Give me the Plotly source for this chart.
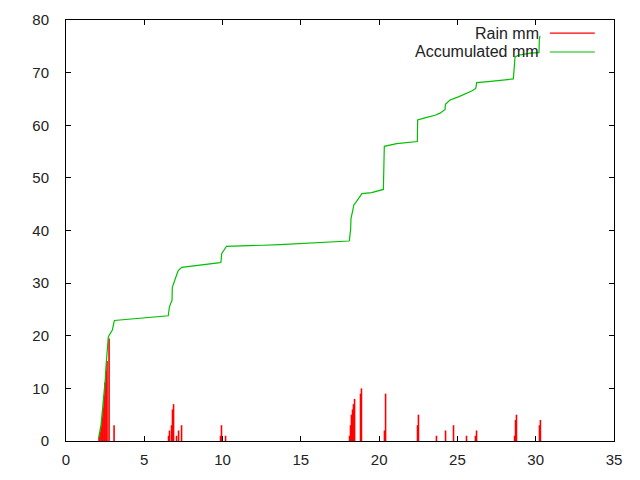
import plotly.graph_objects as go

# Rain impulses (day of month, mm)
rain_day = [2.11, 2.17, 2.24, 2.30, 2.36, 2.43, 2.49, 2.56, 2.62, 2.75, 3.07,
            6.55, 6.61, 6.74, 6.80, 6.87, 7.06, 7.19, 7.38,
            9.87, 9.93, 10.19,
            18.11, 18.17, 18.23, 18.30, 18.36, 18.43, 18.81, 18.87,
            20.34, 20.41, 22.45, 22.51, 23.66, 24.24, 24.75, 25.58,
            26.15, 26.22, 28.65, 28.71, 28.77, 30.24, 30.30]
rain_mm = [0.8, 1.7, 2.6, 4.4, 6.3, 8.6, 11.1, 13.3, 15.2, 19.5, 3,
           1, 2, 3, 6, 7, 1, 2, 3,
           1, 3, 1,
           1, 3, 5, 6, 7, 8, 9, 10,
           2, 9, 3, 5, 1, 2, 3, 1,
           1, 2, 1, 4, 5, 3, 4]

# Accumulated rain curve
acc_day = [2.08, 2.11, 2.17, 2.24, 2.28, 2.34, 2.41, 2.47, 2.51, 2.55, 2.60, 2.64,
           2.66, 2.70, 2.74, 2.79, 2.87, 2.96, 3.04, 3.09, 6.53,
           6.60, 6.69, 6.77, 6.79, 6.85, 6.96, 7.07, 7.17, 7.28, 7.39,
           9.84, 9.90, 9.94, 10.00, 10.09, 10.17, 10.25, 12.6, 13.67,
           18.07, 18.10, 18.18, 18.20, 18.27, 18.31, 18.39, 18.50, 18.60, 18.71,
           18.82, 18.90, 19.52, 19.95, 20.27, 20.33, 21.12, 22.44, 22.46,
           23.04, 23.57, 23.89, 24.21, 24.23, 24.53, 25.06, 25.48, 25.91,
           26.17, 26.23, 26.97, 27.93, 28.57, 28.68, 28.89, 29.64, 30.21,
           30.23, 30.27]
acc_mm = [0.5, 0.95, 1.9, 3.2, 4.4, 6.0, 7.9, 9.8, 11.7, 14.0, 15.9, 17.8,
          19.0, 19.7, 20.0, 20.3, 20.6, 21.1, 22.2, 22.9, 23.8,
          25.4, 26.2, 26.7, 29.2, 29.8, 30.8, 31.6, 32.4, 32.8, 33.0,
          33.9, 34.0, 35.6, 35.9, 36.3, 36.8, 37.0, 37.2, 37.3,
          38.0, 38.1, 40.3, 42.2, 43.2, 44.1, 44.9, 45.3, 45.7, 46.2,
          46.7, 47.0, 47.2, 47.5, 47.8, 56.0, 56.5, 56.9, 61.0,
          61.5, 61.9, 62.3, 63.0, 64.0, 64.8, 65.4, 65.9, 66.5,
          67.0, 68.1, 68.3, 68.6, 68.8, 73.0, 73.3, 73.7, 73.8,
          76.2, 77.0]

# impulses: vertical segments from 0 to value
imp_x, imp_y = [], []
for d, v in zip(rain_day, rain_mm):
    imp_x += [d, d, None]
    imp_y += [0, v, None]

red = '#ff0000'
green = '#00c000'
font = dict(family='Liberation Sans, Arial, sans-serif', size=15, color='#222222')
key_font = dict(family='Liberation Sans, Arial, sans-serif', size=16, color='#222222')

fig = go.Figure()
fig.add_trace(go.Scatter(x=imp_x, y=imp_y, mode='lines', name='Rain mm',
                         line=dict(color=red, width=1.6)))
fig.add_trace(go.Scatter(x=acc_day, y=acc_mm, mode='lines', name='Accumulated mm',
                         line=dict(color=green, width=1.2)))

axis_style = dict(showline=True, linecolor='black', linewidth=1, mirror='allticks',
                  ticks='inside', ticklen=5, tickcolor='black', showgrid=False,
                  zeroline=False, tickfont=font, automargin=False)
fig.update_xaxes(range=[0, 35], dtick=5, ticklabelstandoff=5, **axis_style)
fig.update_yaxes(range=[0, 80], dtick=10, ticklabelstandoff=13, **axis_style)

# gnuplot-style key: text then line sample
key = [('Rain mm', red, 0.969), ('Accumulated mm', green, 0.924)]
for label, col, yk in key:
    fig.add_annotation(x=0.867, y=yk, xref='paper', yref='paper', text=label,
                       showarrow=False, xanchor='right', yanchor='middle', font=key_font)
    fig.add_shape(type='line', xref='paper', yref='paper', x0=0.883, x1=0.965,
                  y0=yk, y1=yk, line=dict(color=col, width=1.2))

# page body has an 8px margin, so size the figure to fit inside it
fig.update_layout(
    width=624, height=464,
    margin=dict(l=58, r=18, t=12, b=31),
    plot_bgcolor='white', paper_bgcolor='white',
    showlegend=False,
)

fig.write_html('out.html')
